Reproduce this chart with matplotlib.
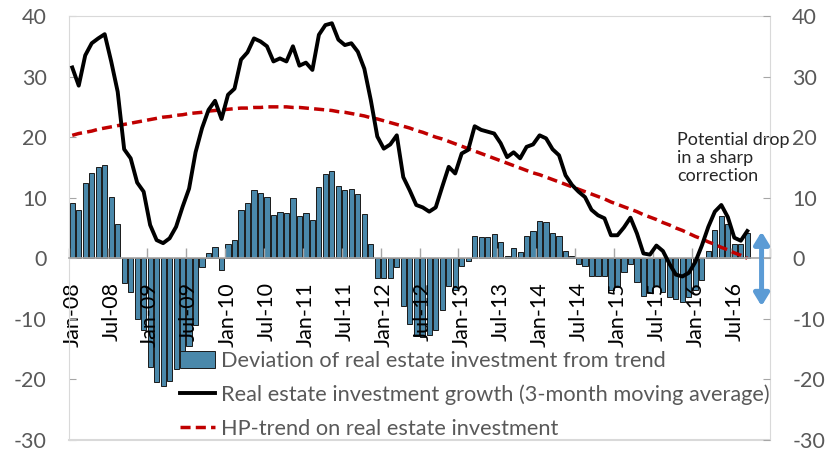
"""
Real estate investment chart: deviation from trend (bars), 3-month moving
average growth (black line) and HP-trend (red dashes), monthly Jan-08 to Sep-16.
"""

import matplotlib
matplotlib.use('Agg')
import matplotlib.pyplot as plt
from matplotlib.patches import FancyArrowPatch

plt.rcParams['font.family'] = ['Lato', 'DejaVu Sans']
plt.rcParams['axes.unicode_minus'] = False

# Deviation of real estate investment from trend, Jan-08 .. Sep-16
deviation = [
    9.1, 7.9, 12.5, 14.1, 15.0, 15.4, 10.2, 5.6,
    -4.1, -5.5, -10.0, -11.9, -17.9, -20.4, -21.1, -20.2, -18.3, -15.5, -14.5, -11.0,
    -1.4, 0.9, 1.8, -1.9, 2.3, 3.0, 7.9, 9.1, 11.3, 10.8, 10.2, 7.1, 7.7, 7.4, 10.0, 6.9,
    7.4, 6.3, 11.8, 13.9, 14.4, 12.0, 11.2, 11.5, 10.6, 7.3, 2.3,
    -3.3, -3.3, -3.3, -1.5, -7.8, -10.8, -12.9, -13.0, -12.6, -11.9, -8.5, -4.5, -5.3, -1.3, -0.5,
    3.6, 3.5, 3.5, 4.0, 2.7, 0.4, 1.7, 1.1, 3.7, 4.5, 6.1, 6.0, 4.1, 3.7, 1.2, 0.4,
    -0.9, -1.2, -2.9, -2.9, -2.9, -5.2, -4.7, -2.3, -0.9, -3.9, -6.2, -5.8, -4.5, -5.6,
    -6.4, -6.8, -7.2, -6.4, -5.3, -3.6,
    1.2, 4.6, 6.9, 5.6, 2.3, 2.3, 4.1,
]

# Real estate investment growth, 3-month moving average
growth = [
    31.5, 28.5, 33.5, 35.5, 36.3, 37.0, 32.5, 27.5,
    18.0, 16.5, 12.5, 11.0, 5.5, 3.0, 2.5, 3.3,
    5.2, 8.5, 11.5, 17.5, 21.5, 24.5, 26.0, 23.0,
    27.0, 28.0, 32.8, 34.0, 36.3, 35.8, 35.0, 32.5,
    33.0, 32.5, 35.0, 31.8, 32.3, 31.1,
    36.9, 38.5, 38.8, 36.1, 35.2, 35.5, 34.1, 31.3,
    26.1, 20.1, 18.1, 18.8, 20.3, 13.4, 11.2, 8.8,
    8.4, 7.7, 8.4, 11.8, 15.1, 14.0, 17.3, 17.9,
    21.8, 21.2, 20.9, 20.6, 19.0, 16.7, 17.5, 16.5,
    18.4, 18.8, 20.3, 19.8, 18.0, 17.0,
    13.7, 12.1, 11.0, 10.1, 8.0, 7.1, 6.6, 3.8,
    3.8, 5.1, 6.7, 4.1, 0.8, 0.6, 2.1, 1.2,
    -0.9, -2.7, -3.0, -2.4, -0.6, 2.1, 5.2, 7.7,
    8.8, 6.8, 3.4, 2.9, 4.5,
]

# HP-trend on real estate investment
hp_trend = [
    20.3, 20.6, 20.8, 21.0, 21.3, 21.5, 21.7, 21.9, 22.1, 22.3, 22.5, 22.7,
    22.9, 23.1, 23.3, 23.4, 23.6, 23.7, 23.9, 24.0, 24.1, 24.3, 24.4, 24.5,
    24.6, 24.7, 24.8, 24.8, 24.9, 24.9, 25.0, 25.0, 25.0, 25.0, 24.9, 24.9,
    24.8, 24.7, 24.6, 24.5, 24.4, 24.2, 24.1, 23.9, 23.7, 23.5, 23.2, 23.0,
    22.7, 22.4, 22.1, 21.8, 21.5, 21.1, 20.8, 20.4, 20.0, 19.7, 19.3, 18.9,
    18.5, 18.1, 17.7, 17.3, 16.9, 16.5, 16.1, 15.7, 15.3, 14.9, 14.5, 14.1,
    13.8, 13.4, 13.0, 12.6, 12.2, 11.8, 11.4, 11.0, 10.6, 10.2, 9.8, 9.3,
    8.9, 8.5, 8.1, 7.7, 7.2, 6.8, 6.4, 5.9, 5.5, 5.0, 4.6, 4.1,
    3.6, 3.2, 2.7, 2.3, 1.8, 1.4, 0.9, 0.5, 0.0,
]

tick_labels = [
    'Jan-08', 'Jul-08', 'Jan-09', 'Jul-09', 'Jan-10', 'Jul-10',
    'Jan-11', 'Jul-11', 'Jan-12', 'Jul-12', 'Jan-13', 'Jul-13',
    'Jan-14', 'Jul-14', 'Jan-15', 'Jul-15', 'Jan-16', 'Jul-16',
]

# potential drop shown by the double arrow (top, bottom)
drop_range = (4.4, -7.9)

N_CATEGORIES = 108  # axis runs Jan-08 .. Dec-16
GRAY_TEXT = '#595959'
BORDER = '#D9D9D9'


def main():
    fig = plt.figure(figsize=(8.27, 4.51), dpi=100)
    ax = fig.add_axes([69 / 827, 11 / 451, 701 / 827, 424 / 451])

    x = list(range(len(deviation)))
    bars = ax.bar(x, deviation, width=0.8, color='#4A88AA',
                  edgecolor='#1A1A1A', linewidth=0.7, zorder=1,
                  label='Deviation of real estate investment from trend')
    growth_line, = ax.plot(
        x, growth, color='black', lw=2.8, zorder=3, solid_joinstyle='round',
        label='Real estate investment growth (3-month moving average)')
    trend_line, = ax.plot(list(range(len(hp_trend))), hp_trend,
                          color='#C00000', lw=2.5, dashes=(2.9, 1.5), zorder=2,
                          label='HP-trend on real estate investment')

    ax.set_xlim(-0.5, N_CATEGORIES - 0.5)
    ax.set_ylim(-30, 40)
    ax.set_yticks(range(-30, 41, 10))

    # frame and zero axis
    for side in ('top', 'left', 'right'):
        ax.spines[side].set_color(BORDER)
    ax.spines['bottom'].set_position(('data', 0))
    ax.spines['bottom'].set_color('#A6A6A6')
    ax.spines['bottom'].set_linewidth(1.2)
    ax.axhline(-30, color=BORDER, lw=1.5, clip_on=False)

    ax.set_xticks(range(0, N_CATEGORIES - 2, 6))
    ax.set_xticklabels(tick_labels, rotation=90)
    ax.set_xticks([b - 0.5 for b in range(0, N_CATEGORIES + 1, 6)], minor=True)
    ax.tick_params(axis='x', which='major', length=0, pad=17,
                   labelsize=15.5, labelcolor='black')
    ax.tick_params(axis='x', which='minor', direction='in', length=7,
                   color='#A6A6A6', width=1)
    ax.tick_params(axis='y', direction='in', length=5, color='#A6A6A6',
                   labelsize=15.5, labelcolor=GRAY_TEXT, pad=16)

    ax2 = ax.twinx()
    ax2.set_ylim(-30, 40)
    ax2.set_yticks(range(-30, 41, 10))
    for side in ax2.spines:
        ax2.spines[side].set_visible(False)
    ax2.tick_params(axis='y', direction='in', length=5, color='#A6A6A6',
                    labelsize=15.5, labelcolor=GRAY_TEXT, pad=16)

    ax.text(0.867, 0.727, 'Potential drop\nin a sharp\ncorrection',
            transform=ax.transAxes, ha='left', va='top', fontsize=13,
            color='#262626', linespacing=1.15, zorder=5)

    arrow = FancyArrowPatch((106.2, drop_range[0]), (106.2, drop_range[1]),
                            arrowstyle='<|-|>,head_length=0.36,head_width=0.22',
                            mutation_scale=20, lw=3.6, color='#5B9BD5',
                            shrinkA=0, shrinkB=0, clip_on=False, zorder=5)
    ax.add_patch(arrow)

    leg = ax.legend(handles=[bars, growth_line, trend_line],
                    loc='upper left', bbox_to_anchor=(180 / 827, 1 - 351 / 451),
                    bbox_transform=fig.transFigure, frameon=False,
                    fontsize=15.7, handlelength=1.6, handleheight=0.8,
                    handletextpad=0.3, labelspacing=0.62, borderpad=0,
                    borderaxespad=0)
    for t in leg.get_texts():
        t.set_color(GRAY_TEXT)

    fig.savefig('out.png', dpi=100, facecolor='white')
    plt.close(fig)


if __name__ == '__main__':
    main()
